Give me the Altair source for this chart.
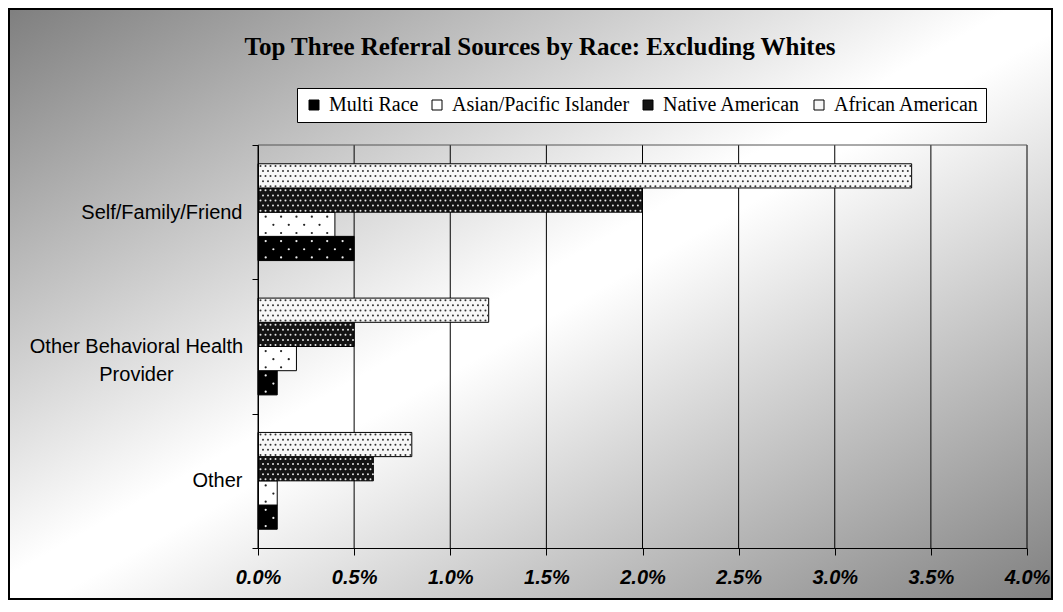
import altair as alt
import pandas as pd

TITLE = "Top Three Referral Sources by Race: Excluding Whites"
categories = ["Self/Family/Friend", "Other Behavioral Health Provider", "Other"]
races = ["Multi Race", "Asian/Pacific Islander", "Native American", "African American"]
multi_race = [0.005, 0.001, 0.001]
asian_pacific = [0.004, 0.002, 0.001]
native_american = [0.020, 0.005, 0.006]
african_american = [0.034, 0.012, 0.008]
x_ticks = [0.0, 0.005, 0.01, 0.015, 0.02, 0.025, 0.03, 0.035, 0.04]

series = {
    "Multi Race": multi_race,
    "Asian/Pacific Islander": asian_pacific,
    "Native American": native_american,
    "African American": african_american,
}
bar_fill = ["#000000", "#ffffff", "#141414", "#f7f7f7"]
dot_color = {"Multi Race": "#eeeeee", "Asian/Pacific Islander": "#222222",
             "Native American": "#e6e6e6", "African American": "#333333"}
pattern = {"Multi Race": "sparse", "Asian/Pacific Islander": "sparse",
           "Native American": "dense", "African American": "dense"}
bar_order = list(reversed(races))
SUB = 24  # sub-rows per bar for dot placement
PAD_KEYS = 18  # extra empty sub-rows above and below the bar group

rows = []
for race in races:
    for cat, v in zip(categories, series[race]):
        rows.append({"category": cat, "race": race, "value": v,
                     "rank": bar_order.index(race),
                     "dotcolor": dot_color[race], "pattern": pattern[race]})
df = pd.DataFrame(rows)
ticks_df = pd.DataFrame({"tick": x_ticks})

W, H = 769, 403
PAD = {"left": 250, "top": 137, "right": 26, "bottom": 52}

STEP = H / 3.0
BAR = 24.2
p_bar = (STEP / BAR - 4) / 2
n_keys = 4 * SUB + 2 * PAD_KEYS
p_sub = (STEP / (BAR / SUB) - n_keys) / 2

x_scale = alt.Scale(domain=[0, 0.04], nice=False, zero=True)
y_scale = alt.Scale(paddingInner=0, paddingOuter=0)
yoff_scale = alt.Scale(paddingInner=0, paddingOuter=p_bar)
sub_scale = alt.Scale(domain=list(range(-PAD_KEYS, 4 * SUB + PAD_KEYS)),
                      paddingInner=0, paddingOuter=p_sub)

WRAPPED = "Other Behavioral Health Provider"
label_expr = (f"datum.value == '{WRAPPED}' ? "
              "['Other Behavioral Health', 'Provider'] : datum.value")
is_wrapped = f"datum.value == '{WRAPPED}'"

x_axis = alt.Axis(title=None, values=x_ticks, format=".1%", grid=False,
                  domain=True, domainColor="black", domainWidth=1,
                  tickColor="black", tickSize=7,
                  labelFont="Liberation Sans", labelFontSize=20, labelFontStyle="italic",
                  labelFontWeight="bold", labelColor="black", labelPadding=12,
                  labelFlush=False, labelOverlap=False, zindex=2)
y_axis = alt.Axis(title=None, domain=True, domainColor="black", domainWidth=1,
                  tickColor="black", tickSize=6,
                  tickBand="extent", labelFont="Liberation Sans", labelFontSize=20,
                  labelColor="black", labelLimit=400,
                  labelPadding={"condition": {"test": is_wrapped, "value": 116}, "value": 10},
                  labelAlign={"condition": {"test": is_wrapped, "value": "center"}, "value": "right"},
                  labelLineHeight=28, labelExpr=label_expr, zindex=2, grid=False)


def X(field):
    return alt.X(field, scale=x_scale, axis=x_axis, title=None)


def Y():
    return alt.Y("category:N", sort=categories, scale=y_scale, axis=y_axis, title=None)


background = alt.Chart(alt.Data(values=[{"k": 1}])).mark_rect(
    fill=alt.Gradient(
        gradient="linear", x1=0, y1=0, x2=1, y2=1,
        stops=[alt.GradientStop(color="#7f7f7f", offset=0),
               alt.GradientStop(color="#ffffff", offset=0.48),
               alt.GradientStop(color="#ffffff", offset=0.52),
               alt.GradientStop(color="#808080", offset=1)]),
    stroke="black", strokeWidth=2,
).encode(x=alt.value(-PAD["left"] + 1), x2=alt.value(W + PAD["right"] - 1),
         y=alt.value(-PAD["top"] + 1), y2=alt.value(H + PAD["bottom"] - 1))

gridlines = alt.Chart(ticks_df).mark_rule(color="black", strokeWidth=1).encode(
    x=X("tick:Q"))

top_border = alt.Chart(alt.Data(values=[{"a": 0.0, "b": 0.04}])).mark_rule(
    color="#555555", strokeWidth=1).encode(x=X("a:Q"), x2="b:Q", y=alt.value(0))

bars = alt.Chart(df).mark_bar(stroke="black", strokeWidth=1, opacity=1).encode(
    x=X("value:Q"),
    y=Y(),
    yOffset=alt.YOffset("race:N", sort=bar_order, scale=yoff_scale),
    fill=alt.Fill("race:N", scale=alt.Scale(domain=races, range=bar_fill),
                  legend=alt.Legend(orient="none", legendX=39, legendY=-57,
                                    direction="horizontal", title=None,
                                    fillColor="white", strokeColor="black",
                                    padding=7, symbolType="square", symbolSize=100,
                                    symbolStrokeColor="black", symbolStrokeWidth=1,
                                    labelFont="Liberation Serif", labelFontSize=20,
                                    labelColor="black", labelOffset=5, labelLimit=400,
                                    columnPadding=8, symbolOpacity=1)),
)


def dot_layer(kind, start, step, sub, size):
    return alt.Chart(df).transform_filter(
        alt.datum.pattern == kind
    ).transform_calculate(
        dx=f"sequence({start}, datum.value, {step})",
        key=f"datum.rank * {SUB} + {sub}",
    ).transform_flatten(["dx"]).mark_point(
        filled=True, size=size, shape="circle", opacity=1, strokeWidth=0
    ).encode(
        x=X("dx:Q"),
        y=Y(),
        yOffset=alt.YOffset("key:O", scale=sub_scale),
        color=alt.Color("dotcolor:N", scale=None),
    )


dense_step = 0.00026
sparse_step = 0.0008
dots = []
for i, sub in enumerate([2, 7, 12, 17, 22]):
    start = dense_step / 2 if i % 2 == 0 else dense_step
    dots.append(dot_layer("dense", start, dense_step, sub, 4))
for i, sub in enumerate([4, 12, 20]):
    start = sparse_step / 2 if i % 2 == 0 else sparse_step
    dots.append(dot_layer("sparse", start, sparse_step, sub, 5))

title = alt.Chart(alt.Data(values=[{"k": 1}])).mark_text(
    text=TITLE, font="Liberation Serif", fontSize=25, fontWeight="bold",
    color="black", align="center", baseline="middle",
).encode(x=alt.value(282), y=alt.value(-98))

chart = alt.layer(background, gridlines, top_border, bars, *dots, title).resolve_scale(
    yOffset="independent"
).properties(
    width=W, height=H,
    autosize=alt.AutoSizeParams(type="none"),
    padding=PAD,
).configure_view(stroke=None)

chart.save("out.html", embed_options={"renderer": "svg", "actions": False})
